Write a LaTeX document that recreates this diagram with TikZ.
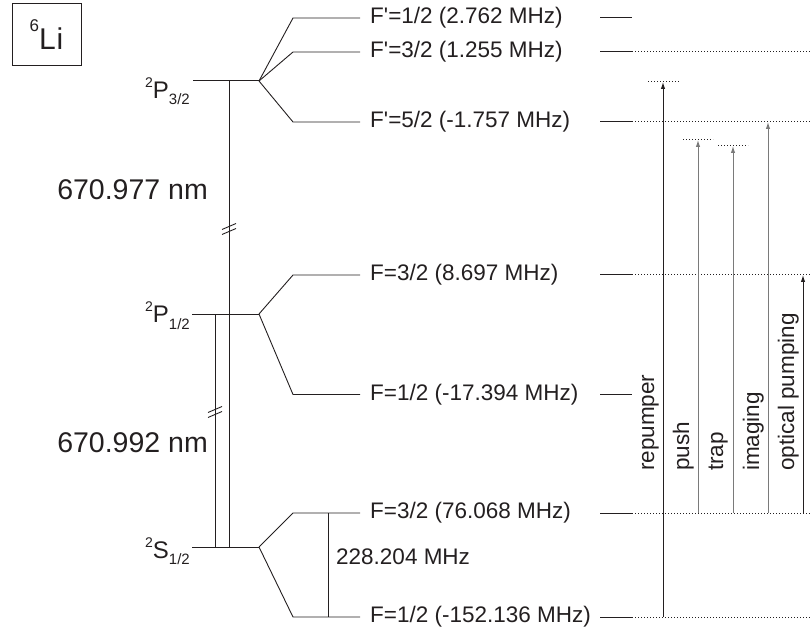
\documentclass[tikz,border=0pt]{standalone}
\usepackage{fontspec}
\newfontfamily\arialfont{Liberation Sans}
\usetikzlibrary{positioning, calc, arrows.meta}
\definecolor{Ink}{HTML}{231F20}
\definecolor{Beam}{HTML}{7A7A7A}
\newcommand{\lvlterm}[2]{\raisebox{11pt}{\fontsize{14}{14}\selectfont 2}#1\raisebox{-6pt}{\fontsize{15}{15}\selectfont #2}}
\tikzset{
    level/.style={line width=1pt, color=Ink},
    split/.style={line width=0.9pt, color=Ink},
    guide/.style={dotted, line width=1pt, color=Ink},
    beam/.style={-{Latex[length=7pt, width=4.5pt]}, line width=1pt},
    lbl/.style={font=\arialfont\fontsize{22.5}{26}\selectfont, text=Ink, inner sep=0pt, anchor=west},
    termlbl/.style={font=\arialfont\fontsize{24}{28}\selectfont, text=Ink, inner sep=0pt, anchor=base east},
    wavelbl/.style={font=\arialfont\fontsize{28.5}{32}\selectfont, text=Ink, inner sep=0pt, anchor=east},
    beamlbl/.style={lbl, rotate=90, anchor=south west},
    isobox/.style={draw=Ink, line width=1pt, minimum width=69pt, minimum height=62pt, inner sep=0pt, text=Ink, font=\arialfont\fontsize{30}{34}\selectfont},
}

\begin{document}
\begin{tikzpicture}[x=1pt, y=-1pt]
    \useasboundingbox (0,0) rectangle (811,628);

    % Isotopo
    \node[isobox] (iso) at (46.5,35) {\raisebox{18pt}{\fontsize{17}{17}\selectfont 6}L\kern1pt i};

    % Struttura fine
    \node[termlbl] (P32) at (190,99) {\lvlterm{P}{3/2}};
    \node[termlbl] (P12) at (190,323) {\lvlterm{P}{1/2}};
    \node[termlbl] (S12) at (190,558) {\lvlterm{S}{1/2}};
    \coordinate (P32a) at (193,81);  \coordinate (P32b) at (259,81);
    \coordinate (P12a) at (192,314); \coordinate (P12b) at (259,314);
    \coordinate (S12a) at (192,547); \coordinate (S12b) at (259,547);
    \draw[level] (P32a) -- (P32b);
    \draw[level] (P12a) -- (P12b);
    \draw[level] (S12a) -- (S12b);

    % Linee D1 e D2 (interrotte)
    \coordinate (dTwoT) at (229,81);  \coordinate (dTwoB) at (229,547);
    \coordinate (dOneT) at (215,314); \coordinate (dOneB) at (215,547);
    \draw[split] (dTwoT) -- (dTwoB);
    \draw[split] (dOneT) -- (dOneB);
    \coordinate (brTwo) at (229,229);
    \coordinate (brOne) at (215,412);
    \foreach \c in {brTwo, brOne} {
        \draw[split] ($(\c)+(-7,0.5)$) -- ++(14,-6);
        \draw[split] ($(\c)+(-7,5.5)$) -- ++(14,-6);
    }
    \node[wavelbl] (wlTwo) at (208,190) {670.977 nm};
    \node[wavelbl] (wlOne) at (208,443) {670.992 nm};

    % Struttura iperfine
    \foreach \n/\y/\src in {a/18/P32b, b/52/P32b, c/122/P32b, d/275/P12b, e/394.5/P12b, f/513/S12b, g/617/S12b} {
        \coordinate (hf\n) at (293,\y);
        \coordinate (rt\n) at (600,\y);
        \draw[split] (\src) -- (hf\n) -- ++(67,0);
        \draw[level] (rt\n) -- ++(32,0);
    }
    \node[lbl] (la) at (370,18) {F'=1/2 (2.762 MHz)};
    \node[lbl] (lb) at (370,52) {F'=3/2 (1.255 MHz)};
    \node[lbl] (lc) at (370,122) {F'=5/2 (-1.757 MHz)};
    \node[lbl] (ld) at (370,275) {F=3/2 (8.697 MHz)};
    \node[lbl] (le) at (370,394.5) {F=1/2 (-17.394 MHz)};
    \node[lbl] (lf) at (370,513) {F=3/2 (76.068 MHz)};
    \node[lbl] (lg) at (370,617) {F=1/2 (-152.136 MHz)};

    % Prolungamenti tratteggiati
    \foreach \n in {b, c, d, f, g}
        \draw[guide] ($(rt\n)+(32,0)$) -- ++(179,0);

    % Splitting dello stato fondamentale
    \draw[split] ($(hff)+(35,0)$) -- ($(hfg)+(35,0)$);
    \node[lbl] (gs) at (336,557) {228.204 MHz};

    % Transizioni laser
    \coordinate (rpTop) at (663,82);
    \coordinate (puTop) at (698,140);
    \coordinate (trTop) at (733,146);
    \coordinate (imTop) at (768,122);
    \coordinate (opTop) at (803,275);
    \draw[beam, Ink] (rtg -| rpTop) -- (rpTop);
    \draw[beam, Beam] (rtf -| puTop) -- (puTop);
    \draw[beam, Beam] (rtf -| trTop) -- (trTop);
    \draw[beam, Beam] (rtf -| imTop) -- (imTop);
    \draw[beam, Ink] (rtf -| opTop) -- (opTop);
    \draw[guide] ($(rpTop)+(-15,0)$) -- ++(31,0);
    \draw[guide] ($(puTop)+(-15,-0.5)$) -- ++(30,0);
    \draw[guide] ($(trTop)+(-15,-0.5)$) -- ++(30,0);

    \node[beamlbl] (lrp) at (659,471) {repumper};
    \node[beamlbl] (lpu) at (694,471) {push};
    \node[beamlbl] (ltr) at (728,471) {trap};
    \node[beamlbl] (lim) at (764,471) {imaging};
    \node[beamlbl] (lop) at (799,471) {optical pumping};
\end{tikzpicture}
\end{document}
